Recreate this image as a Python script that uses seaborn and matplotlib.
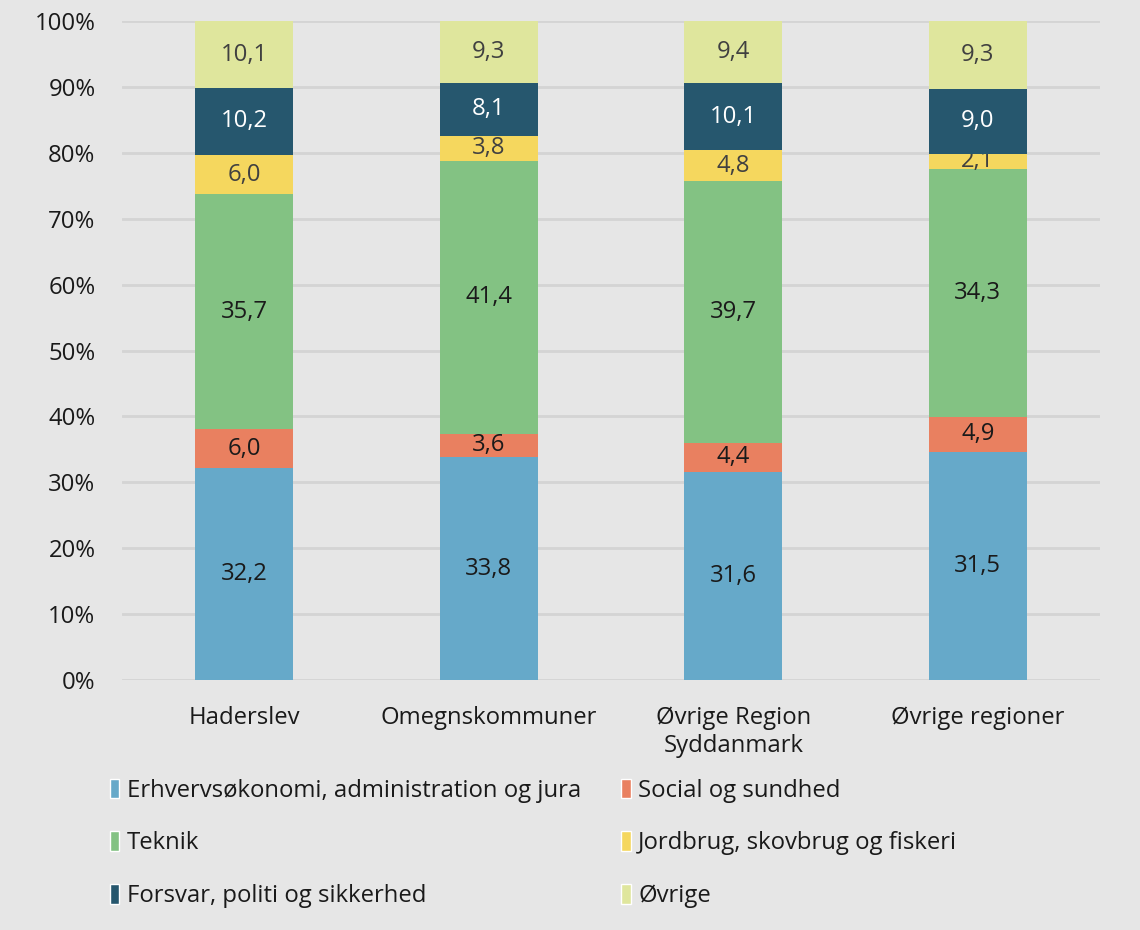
import matplotlib
matplotlib.use("Agg")
import matplotlib.pyplot as plt
from matplotlib.patches import Patch
from matplotlib.ticker import FuncFormatter
import seaborn as sns
import numpy as np

regions = ["Haderslev", "Omegnskommuner", "Øvrige Region\nSyddanmark", "Øvrige regioner"]
series = ["Erhvervsøkonomi, administration og jura", "Social og sundhed", "Teknik",
          "Jordbrug, skovbrug og fiskeri", "Forsvar, politi og sikkerhed", "Øvrige"]
erhverv = [32.2, 33.8, 31.6, 31.5]
social = [6.0, 3.6, 4.4, 4.9]
teknik = [35.7, 41.4, 39.7, 34.3]
jordbrug = [6.0, 3.8, 4.8, 2.1]
forsvar = [10.2, 8.1, 10.1, 9.0]
ovrige = [10.1, 9.3, 9.4, 9.3]
values = [erhverv, social, teknik, jordbrug, forsvar, ovrige]

colors = ["#66A9C9", "#E98060", "#83C283", "#F5D75E", "#26576E", "#DFE69D"]
label_colors = ["#1a1a1a", "#1a1a1a", "#1a1a1a", "#404040", "white", "#404040"]

sns.set_theme(style="white")
plt.rcParams["font.family"] = ["Open Sans", "DejaVu Sans"]
bg = "#E6E6E6"
fs = 17.2

fig = plt.figure(figsize=(11.4, 9.3), dpi=100, facecolor=bg)
ax = fig.add_axes([0.107, 0.269, 0.858, 0.708])
ax.set_facecolor(bg)

# 100 % stacked: scale each column to sum 100
totals = np.sum(values, axis=0)
bottom = np.zeros(len(regions))
for vals, col, lc in zip(values, colors, label_colors):
    share = np.array(vals) / totals * 100
    sns.barplot(x=regions, y=share, bottom=bottom, color=col, width=0.4,
                saturation=1, linewidth=0, ax=ax, zorder=3)
    cont = ax.containers[-1]
    ax.bar_label(cont, labels=[f"{v:.1f}".replace(".", ",") for v in vals],
                 label_type="center", color=lc, fontsize=fs)
    bottom = bottom + share

ax.set_ylim(0, 100)
ax.set_xlim(-0.5, 3.5)
ax.set_yticks(range(0, 101, 10))
ax.yaxis.set_major_formatter(FuncFormatter(lambda v, p: f"{v:.0f}%"))
ax.grid(axis="y", color="#D4D4D4", linewidth=2, zorder=0)
ax.set_axisbelow(True)
for s in ax.spines.values():
    s.set_visible(False)
ax.tick_params(axis="both", length=0, labelsize=fs, colors="#1a1a1a")
ax.tick_params(axis="y", pad=19)
ax.tick_params(axis="x", pad=19)
ax.set_xlabel("")
ax.set_ylabel("")

order = [0, 2, 4, 1, 3, 5]
handles = [Patch(facecolor=colors[i], label=series[i]) for i in order]
fig.legend(handles=handles, loc="upper left", bbox_to_anchor=(0.0775, 0.186),
           ncol=2, frameon=False, fontsize=fs, handlelength=0.4, handleheight=0.9,
           handletextpad=0.3, columnspacing=1.7, labelspacing=1.2,
           labelcolor="#1a1a1a")

fig.savefig("out.png", dpi=100, facecolor=bg)
